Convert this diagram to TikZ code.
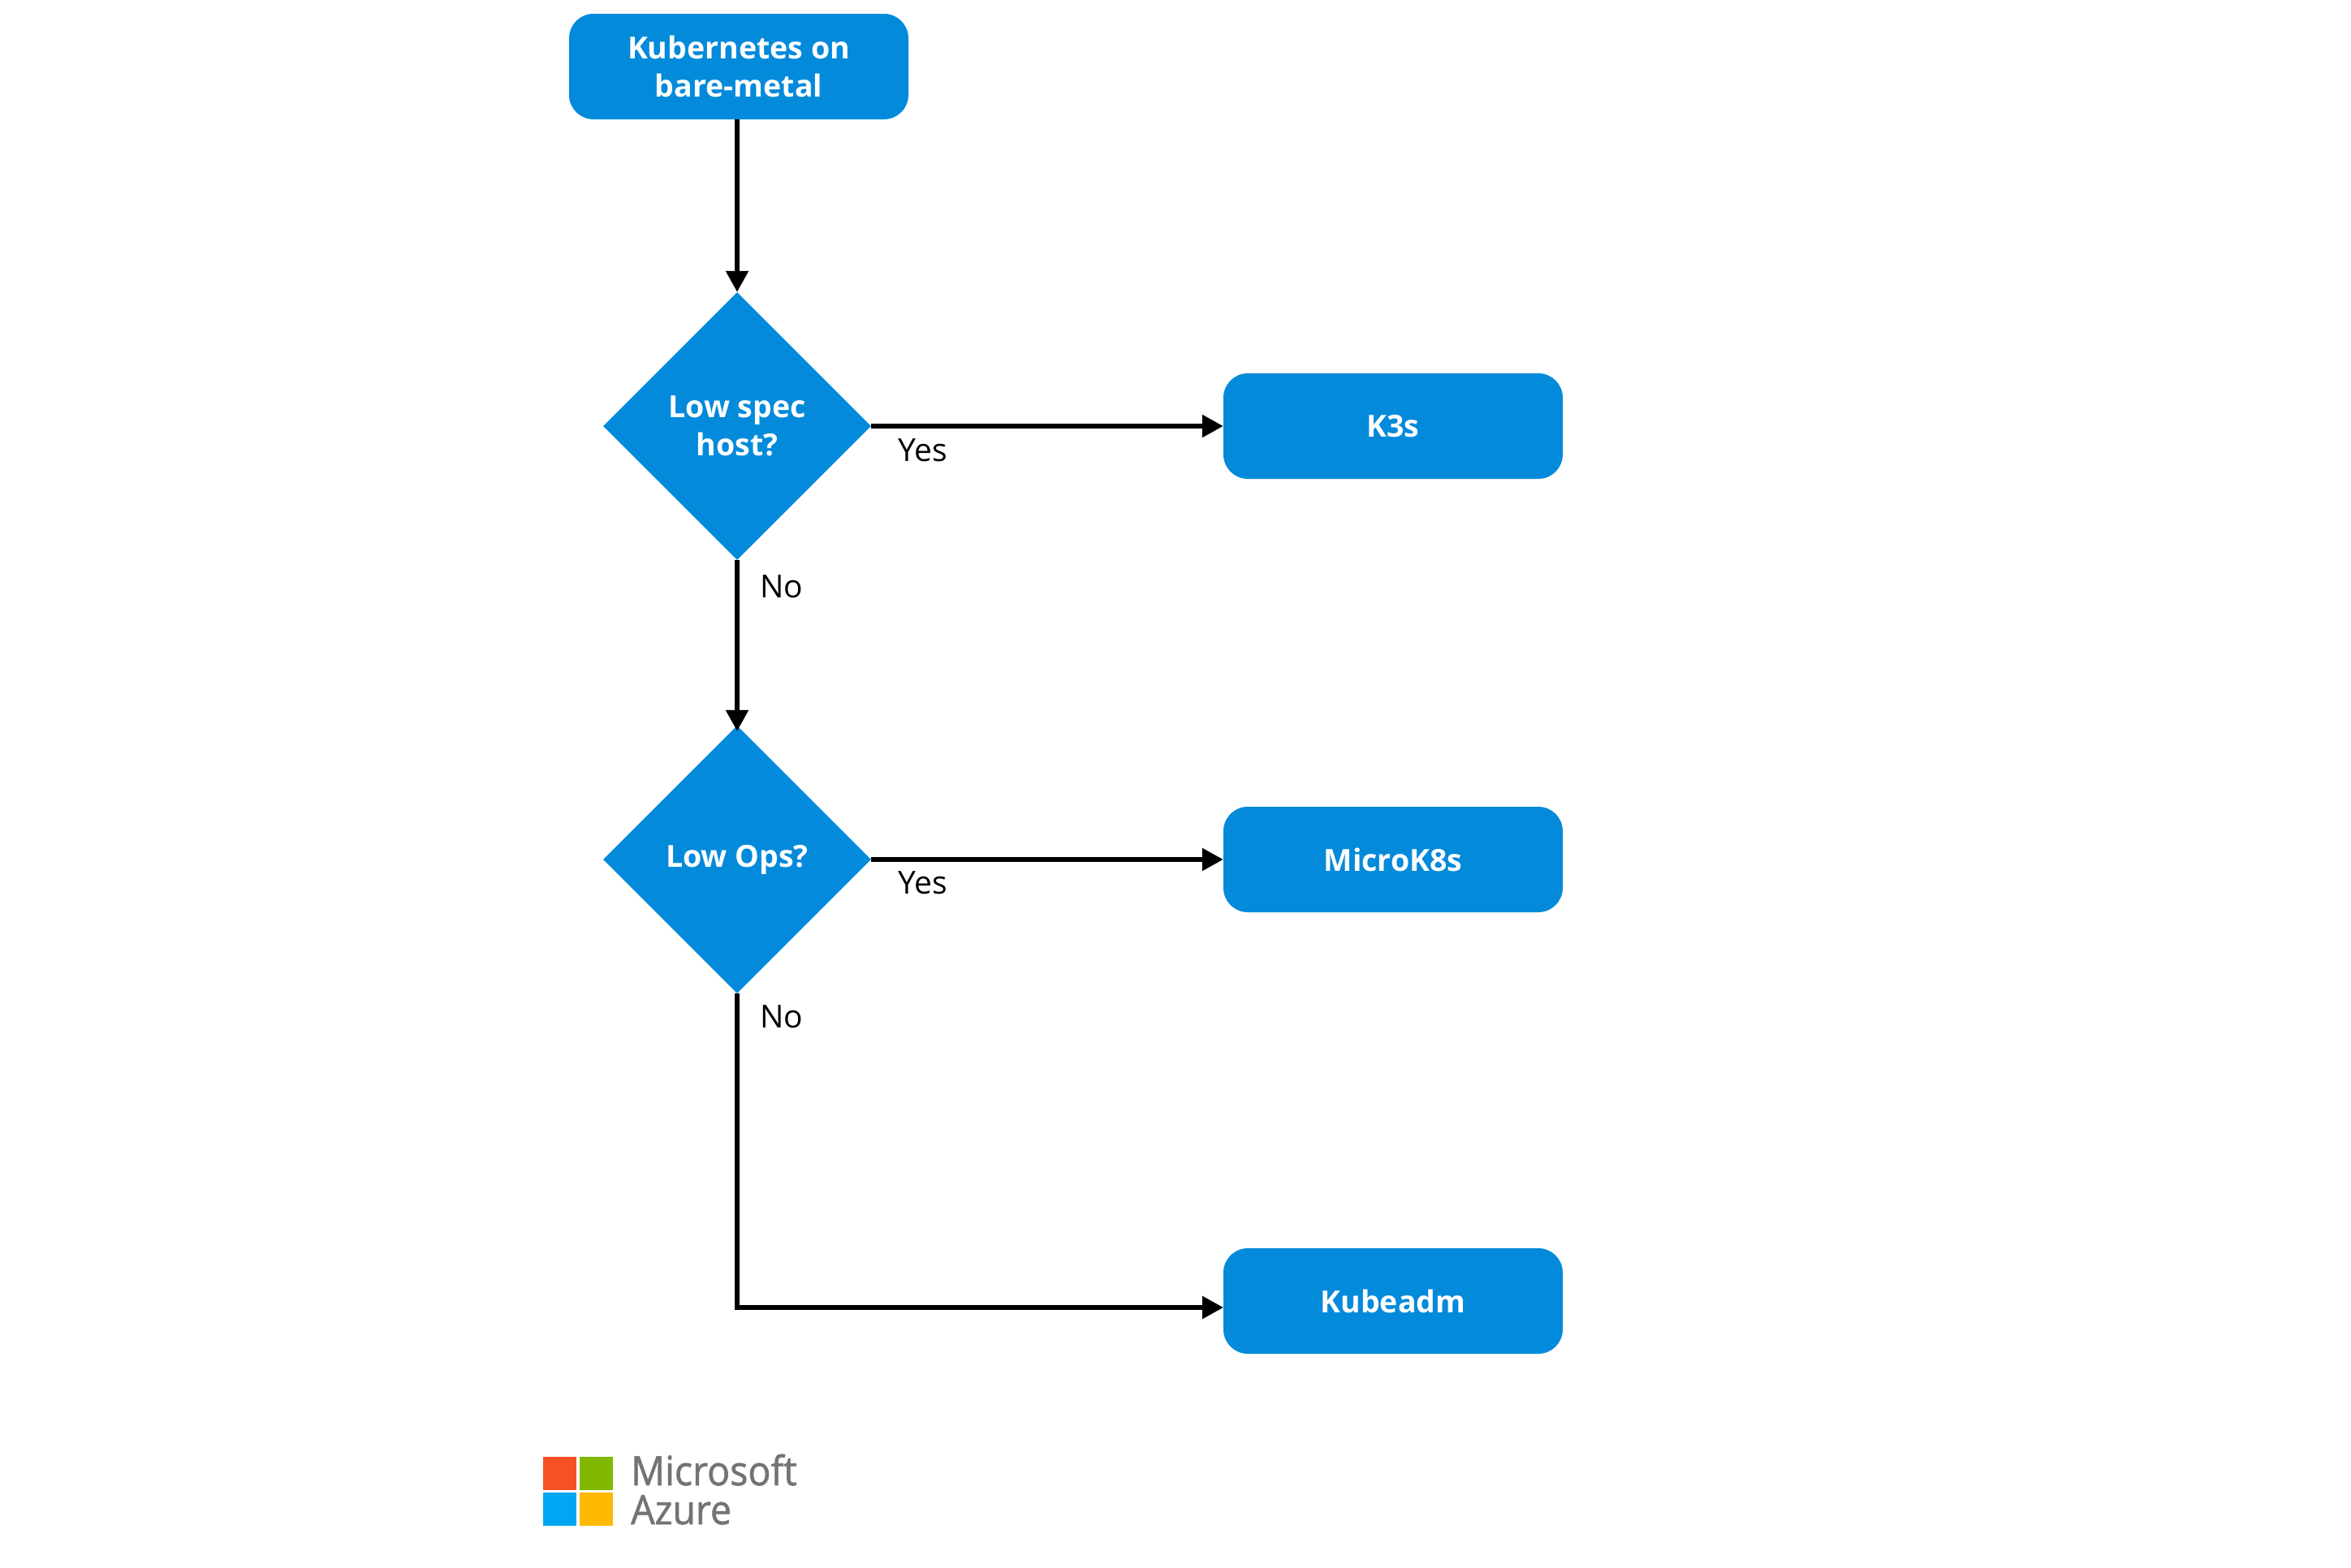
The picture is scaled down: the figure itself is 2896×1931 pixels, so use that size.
\documentclass[tikz,border=0pt]{standalone}
\usepackage{fontspec}
\setmainfont{Open Sans}
\newfontfamily\logofont[FakeStretch=0.93,FakeBold=1.2]{Open Sans}
\usetikzlibrary{shapes.geometric,arrows.meta}
\definecolor{azblue}{HTML}{038ADB}
\definecolor{msgrey}{HTML}{737373}
\definecolor{logored}{HTML}{F65124}
\definecolor{logogreen}{HTML}{80B900}
\definecolor{logoblue}{HTML}{00A6F2}
\definecolor{logoyellow}{HTML}{FFB900}
\tikzset{
  x=1pt,y=1pt,
  flowbox/.style={rectangle,rounded corners=30pt,fill=azblue,text=white,minimum width=418pt,minimum height=130pt,inner sep=0pt,align=center,font=\fontsize{37.5}{46.7}\selectfont\bfseries},
  decision/.style={diamond,fill=azblue,text=white,minimum width=330pt,minimum height=330pt,inner sep=0pt,align=center,font=\fontsize{37.5}{46.7}\selectfont\bfseries},
  link/.style={draw=black,line width=5.5pt,-{Triangle[length=26pt,width=27pt]}},
  edgelabel/.style={font=\fontsize{39}{44}\selectfont,text=black,inner sep=0pt},
  logosq/.style={rectangle,minimum width=41pt,minimum height=41pt,inner sep=0pt},
  logotext/.style={font=\logofont\fontsize{50}{50}\selectfont,text=msgrey,inner sep=0pt,anchor=base west}
}
\begin{document}
\begin{tikzpicture}
\useasboundingbox (0,0) rectangle (2896,-1931);
\node[flowbox] (kube) at (910,-82) {Kubernetes on\\bare-metal};
\node[decision] (d1) at (908,-525) {Low spec\\host?};
\node[decision] (d2) at (908,-1059) {Low Ops?};
\node[flowbox] (k3s) at (1716,-525) {K3s};
\node[flowbox] (micro) at (1716,-1059) {MicroK8s};
\node[flowbox] (adm) at (1716,-1603) {Kubeadm};
\coordinate (admin) at (1507,-1611);
\draw[link] (d1.north |- kube.south) -- (d1.north);
\draw[link,shorten >=-7pt] (d1.south) -- (d2.north);
\draw[link] (d1.east) -- (k3s.west);
\draw[link] (d2.east) -- (micro.west);
\draw[link] (d2.south) |- (admin);
\node[edgelabel] (y1) at (1137,-555) {Yes};
\node[edgelabel] (n1) at (963,-723) {No};
\node[edgelabel] (y2) at (1137,-1088) {Yes};
\node[edgelabel] (n2) at (963,-1253) {No};
\node[logosq,fill=logored] (lr) at (689.5,-1815) {};
\node[logosq,fill=logogreen] (lg) at (734,-1815) {};
\node[logosq,fill=logoblue] (lb) at (689.5,-1859.5) {};
\node[logosq,fill=logoyellow] (ly) at (734,-1859.5) {};
\node[logotext] (lm) at (777,-1830) {Microsoft};
\node[logotext] (la) at (777,-1878) {Azure};
\end{tikzpicture}
\end{document}
